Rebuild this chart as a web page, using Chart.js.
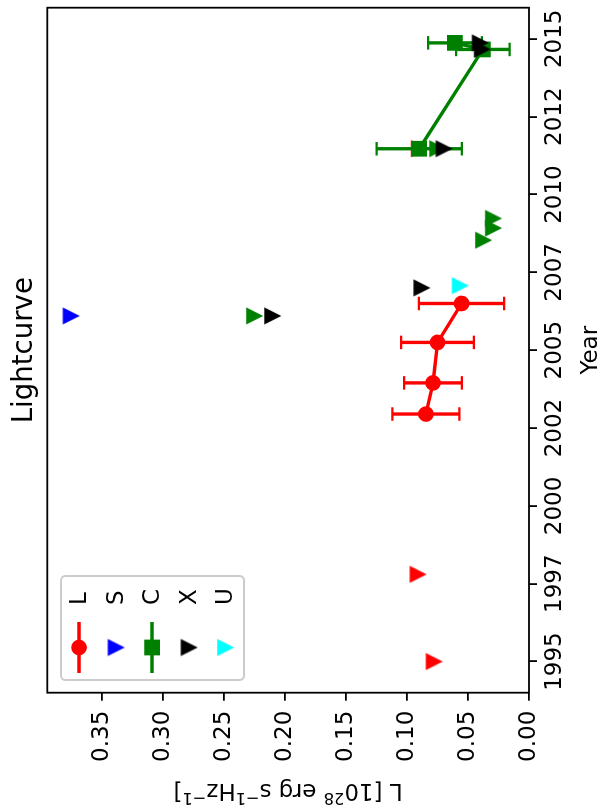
<!DOCTYPE html>
<html>
<head>
<meta charset="utf-8">
<script src="https://cdn.jsdelivr.net/npm/chart.js@4.4.0/dist/chart.umd.min.js"></script>
<style>
html,body{margin:0;padding:0;overflow:hidden;background:#fff;width:604px;height:810px;}
#wrap{position:absolute;left:0;top:0;width:810px;height:604px;transform-origin:0 0;transform:translate(0,810px) rotate(-90deg);background:#fff;}
canvas{display:block;}
</style>
</head>
<body>
<div id="wrap"><canvas id="c" width="810" height="604" style="width:810px;height:604px"></canvas></div>
<script>
// ---- data ----
const L_det_year = [2002.95, 2003.95, 2005.25, 2006.5];
const L_det_lum  = [0.0845, 0.0787, 0.0750, 0.0553];
const L_det_err  = [0.0275, 0.0237, 0.0298, 0.0350];
const L_lim_year = [1995.0, 1997.8, 2011.47];
const L_lim_lum  = [0.0783, 0.0915, 0.0905];
const S_lim_year = [2006.1];
const S_lim_lum  = [0.376];
const C_det_year = [2011.47, 2014.66, 2014.87];
const C_det_lum  = [0.0900, 0.0378, 0.0607];
const C_det_err  = [0.0350, 0.0220, 0.0220];
const C_lim_year = [2006.1, 2008.53, 2008.92, 2009.23, 2011.47];
const C_lim_lum  = [0.2256, 0.0378, 0.0297, 0.0297, 0.0754];
const X_lim_year = [2006.1, 2007.0, 2011.47, 2014.66, 2014.87];
const X_lim_lum  = [0.2107, 0.0884, 0.0702, 0.0388, 0.0405];
const U_lim_year = [2007.07];
const U_lim_lum  = [0.0569];
const yearTicks = [1995, 1997.5, 2000, 2002.5, 2005, 2007.5, 2010, 2012.5, 2015];
const yearTickLabels = ['1995','1997','2000','2002','2005','2007','2010','2012','2015'];
const lumTicks = [0, 0.05, 0.10, 0.15, 0.20, 0.25, 0.30, 0.35];
const lumTickLabels = ['0.00','0.05','0.10','0.15','0.20','0.25','0.30','0.35'];
const legendLabels = ['L','S','C','X','U'];

const RED='#ff0000', BLUE='#0000ff', GREEN='#008000', BLACK='#000000', CYAN='#00ffff';
const FONT='"DejaVu Sans"';
const LW = 3.375, MEW = 2.25, MS = 13.5, CAP = 6.75;

function makeTri(color){
  const c=document.createElement('canvas'); c.width=26; c.height=26;
  const g=c.getContext('2d'); const s=MS/2, cx=13, cy=13;
  g.beginPath(); g.moveTo(cx-s,cy-s); g.lineTo(cx+s,cy-s); g.lineTo(cx,cy+s); g.closePath();
  g.fillStyle=color; g.fill(); g.lineWidth=MEW; g.lineJoin='miter'; g.strokeStyle=color; g.stroke();
  return c;
}
const tri = {r:makeTri(RED), b:makeTri(BLUE), g:makeTri(GREEN), k:makeTri(BLACK), c:makeTri(CYAN)};

const datasets=[];
function pts(xs, ys){ return xs.map((x,i)=>({x:x, y:ys[i]})); }
function addErrorbars(xs, ys, es, color){
  xs.forEach((x,i)=>{
    datasets.push({data:[{x:x,y:ys[i]-es[i]},{x:x,y:ys[i]+es[i]}], showLine:true,
      borderColor:color, borderWidth:LW, pointStyle:'line', pointRadius:CAP,
      pointBorderColor:color, pointBackgroundColor:color, pointBorderWidth:MEW});
  });
}
function addDetections(xs, ys, color, style, radius){
  datasets.push({data:pts(xs,ys), showLine:true, borderColor:color, backgroundColor:color,
    borderWidth:LW, pointStyle:style, pointRadius:radius, pointBackgroundColor:color,
    pointBorderColor:color, pointBorderWidth:MEW});
}
function addLimits(xs, ys, sprite){
  datasets.push({data:pts(xs,ys), showLine:false, pointStyle:sprite, pointRadius:8});
}
addErrorbars(L_det_year, L_det_lum, L_det_err, RED);
addDetections(L_det_year, L_det_lum, RED, 'circle', MS/2);
addLimits(L_lim_year, L_lim_lum, tri.r);
addLimits(S_lim_year, S_lim_lum, tri.b);
addErrorbars(C_det_year, C_det_lum, C_det_err, GREEN);
addDetections(C_det_year, C_det_lum, GREEN, 'rect', MS/Math.SQRT2);
addLimits(C_lim_year, C_lim_lum, tri.g);
addLimits(X_lim_year, X_lim_lum, tri.k);
addLimits(U_lim_year, U_lim_lum, tri.c);
datasets.forEach((d,i)=>{ d.order=-i; });

const tickFont = {family:FONT, size:23};

const decor = {
  id:'decor',
  afterDraw(chart){
    const ctx=chart.ctx, a=chart.chartArea;
    ctx.save();
    ctx.strokeStyle='#000'; ctx.lineWidth=1.8;
    ctx.strokeRect(a.left, a.top, a.right-a.left, a.bottom-a.top);
    const cx=(a.left+a.right)/2, cy=(a.top+a.bottom)/2;
    ctx.fillStyle='#000'; ctx.textBaseline='alphabetic';
    ctx.font='27.6px '+FONT; ctx.textAlign='center';
    ctx.fillText('Lightcurve', cx, 32);
    ctx.font='23px '+FONT;
    ctx.fillText('Year', cx, 597);
    // y label with superscripts
    const parts=[{t:'L [10'},{t:'28',s:1},{t:' erg s'},{t:'\u22121',s:1},{t:'Hz'},{t:'\u22121',s:1},{t:']'}];
    const big='23px '+FONT, small='16.1px '+FONT;
    let tot=0; parts.forEach(p=>{ctx.font=p.s?small:big; p.w=ctx.measureText(p.t).width; tot+=p.w;});
    ctx.save(); ctx.translate(26, cy); ctx.rotate(-Math.PI/2); ctx.textAlign='left';
    let x=-tot/2;
    parts.forEach(p=>{ctx.font=p.s?small:big; ctx.fillText(p.t, x, p.s?-9:0); x+=p.w;});
    ctx.restore();
    // legend
    const bx=130, by=61, bw=104, bh=183;
    ctx.beginPath(); ctx.roundRect(bx, by, bw, bh, 4.5);
    ctx.fillStyle='rgba(255,255,255,0.8)'; ctx.fill();
    ctx.strokeStyle='#cccccc'; ctx.lineWidth=2; ctx.stroke();
    const rows=[79, 115.5, 152, 188.5, 225];
    const mx=162.5;
    const handles=[
      {c:RED, line:true, m:'o'}, {c:BLUE, m:tri.b}, {c:GREEN, line:true, m:'s'}, {c:BLACK, m:tri.k}, {c:CYAN, m:tri.c}
    ];
    handles.forEach((h,i)=>{
      const yc=rows[i];
      if(h.line){ ctx.beginPath(); ctx.moveTo(137,yc); ctx.lineTo(188,yc); ctx.strokeStyle=h.c; ctx.lineWidth=LW; ctx.stroke(); }
      if(h.m==='o'){ ctx.beginPath(); ctx.arc(mx,yc,MS/2,0,Math.PI*2); ctx.fillStyle=h.c; ctx.fill(); ctx.lineWidth=MEW; ctx.strokeStyle=h.c; ctx.stroke(); }
      else if(h.m==='s'){ ctx.beginPath(); ctx.rect(mx-MS/2,yc-MS/2,MS,MS); ctx.fillStyle=h.c; ctx.fill(); ctx.lineWidth=MEW; ctx.strokeStyle=h.c; ctx.stroke(); }
      else { ctx.drawImage(h.m, mx-h.m.width/2, yc-h.m.height/2); }
      ctx.fillStyle='#000'; ctx.font='23px '+FONT; ctx.textAlign='left';
      ctx.fillText(legendLabels[i], 205, yc+7);
    });
    ctx.restore();
  }
};

new Chart(document.getElementById('c'), {
  type:'scatter',
  data:{datasets:datasets},
  plugins:[decor],
  options:{
    responsive:false, animation:false, devicePixelRatio:1, events:[],
    layout:{padding:{top:47.3, right:7.7, left:0, bottom:0}, autoPadding:false},
    plugins:{legend:{display:false}, title:{display:false}, tooltip:{enabled:false}},
    scales:{
      x:{type:'linear', position:'bottom', min:1994, max:2016, bounds:'data',
        afterBuildTicks:(s)=>{ s.ticks=yearTicks.map(v=>({value:v})); },
        afterFit:(s)=>{ s.height=75; },
        ticks:{callback:(v,i)=>yearTickLabels[i], font:tickFont, color:'#000', padding:4, autoSkip:false, maxRotation:0, minRotation:0},
        grid:{display:true, drawOnChartArea:false, drawTicks:true, tickLength:8, color:'#000', lineWidth:1.8},
        border:{display:false}
      },
      y:{type:'linear', position:'left', min:0, max:0.395, bounds:'data',
        afterBuildTicks:(s)=>{ s.ticks=lumTicks.map(v=>({value:v})); },
        afterFit:(s)=>{ s.width=117.3; },
        ticks:{callback:(v,i)=>lumTickLabels[i], font:tickFont, color:'#000', padding:10, autoSkip:false},
        grid:{display:true, drawOnChartArea:false, drawTicks:true, tickLength:8, color:'#000', lineWidth:1.8},
        border:{display:false}
      }
    }
  }
});
</script>
</body>
</html>
